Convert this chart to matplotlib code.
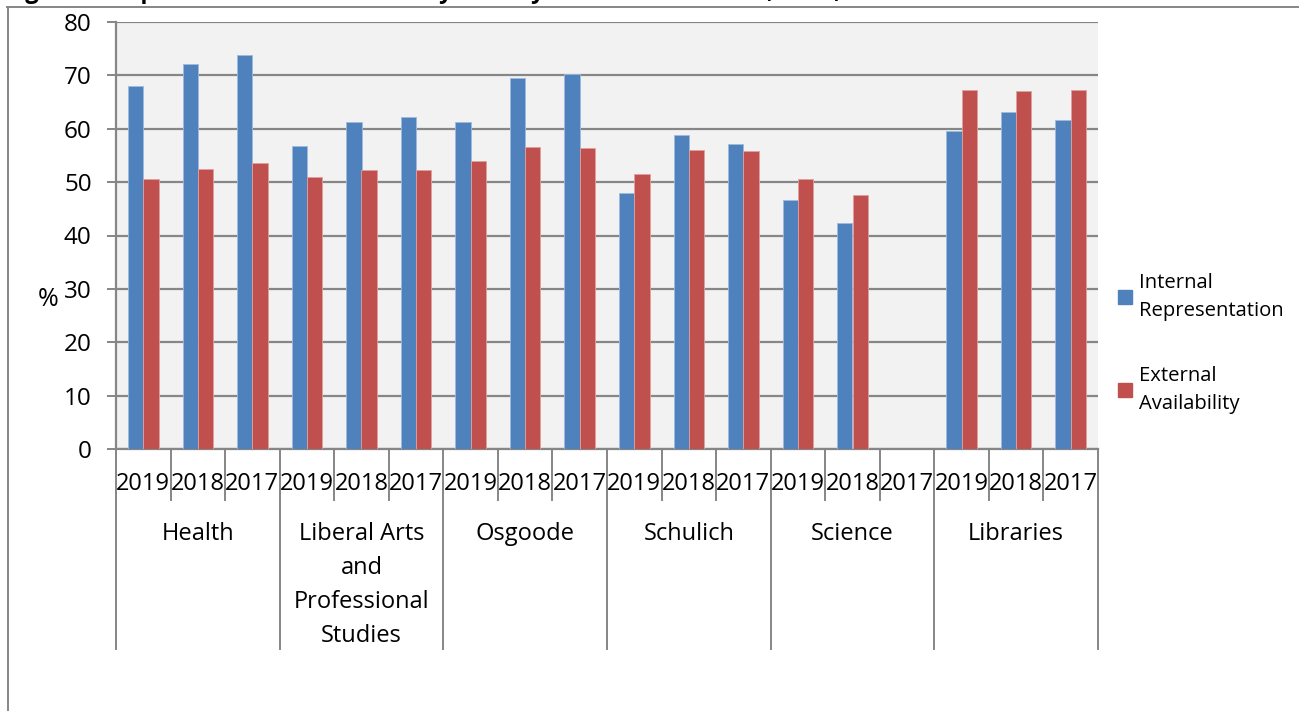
import matplotlib.pyplot as plt
from matplotlib.lines import Line2D
from matplotlib.patches import Patch

plt.rcParams['font.family'] = ['Open Sans', 'DejaVu Sans']

faculties = ['Health', 'Liberal Arts\nand\nProfessional\nStudies', 'Osgoode',
             'Schulich', 'Science', 'Libraries']
years = ['2019', '2018', '2017']
internal = [68.0, 72.2, 73.9,
            56.7, 61.3, 62.2,
            61.2, 69.6, 70.2,
            48.0, 58.9, 57.2,
            46.7, 42.3, None,
            59.6, 63.1, 61.6]
external = [50.5, 52.5, 53.5,
            51.0, 52.2, 52.2,
            53.9, 56.6, 56.4,
            51.5, 56.0, 55.8,
            50.6, 47.6, None,
            67.3, 67.1, 67.2]

blue = '#4F81BD'
red = '#C0504D'
grid = '#868686'

W, H = 1299, 711
fig = plt.figure(figsize=(W / 100, H / 100), dpi=100)
ax = fig.add_axes([116 / W, 1 - 449 / H, (1098 - 116) / W, (449 - 22) / H])
ax.set_facecolor('#F2F2F2')

n = len(internal)
xs = list(range(n))
bw = 0.28
for i in xs:
    if internal[i] is not None:
        ax.bar(i - bw / 2, internal[i], bw, color=blue, edgecolor='#9DB9DD', linewidth=0.6, zorder=3)
    if external[i] is not None:
        ax.bar(i + bw / 2, external[i], bw, color=red, edgecolor='#E0A09E', linewidth=0.6, zorder=3)

ax.set_xlim(-0.5, n - 0.5)
ax.set_ylim(0, 80)
ax.set_yticks(range(0, 81, 10))
ax.yaxis.grid(True, color=grid, linewidth=1.6, zorder=1)
ax.tick_params(axis='y', length=6.5, width=1.4, color=grid, pad=11, labelsize=17.5)
for s in ['top', 'right']:
    ax.spines[s].set_visible(False)
for s in ['left', 'bottom']:
    ax.spines[s].set_color(grid)
    ax.spines[s].set_linewidth(1.6)

# year labels
ax.set_xticks(xs)
ax.set_xticklabels(years * len(faculties))
ax.tick_params(axis='x', length=0, pad=16.5, labelsize=17)

# separators under the axis
trans = ax.get_xaxis_transform()
short = -51 / 427
long_ = -200 / 427
for b in range(n + 1):
    x = b - 0.5
    y1 = long_ if b % 3 == 0 else short
    ax.plot([x, x], [0, y1], color=grid, linewidth=1.4, transform=trans, clip_on=False)

for g, name in enumerate(faculties):
    ax.text(g * 3 + 1, -73 / 427, name, transform=trans, ha='center', va='top',
            fontsize=17, linespacing=1.55)

ax.set_ylabel('%', rotation=0, fontsize=18, labelpad=10)
ax.yaxis.set_label_coords(-68 / 982, (449 - 312) / 427)

# legend
handles = [Patch(color=blue), Patch(color=red)]
leg = fig.legend(handles, ['Internal\nRepresentation', 'External\nAvailability'],
                 loc='upper left', bbox_to_anchor=(1110 / W, 1 - 265 / H), frameon=False,
                 fontsize=14.6, handlelength=0.7, handleheight=0.7, handletextpad=0.35,
                 labelspacing=2.25, borderaxespad=0)
for t in leg.get_texts():
    t.set_linespacing(1.5)

# outer frame and clipped title
fig.add_artist(Line2D([8 / W, 8 / W], [0, 1 - 7 / H], color=grid, linewidth=1.4))
fig.add_artist(Line2D([7 / W, 1], [1 - 7 / H, 1 - 7 / H], color=grid, linewidth=1.4))
fig.text(5 / W, 1 + 2 / H, 'Figure 3: Representation of Women by Faculty as at December 31, 2019, continued',
         fontsize=17, fontweight='bold', va='baseline', ha='left')

fig.savefig('out.png', dpi=100)
